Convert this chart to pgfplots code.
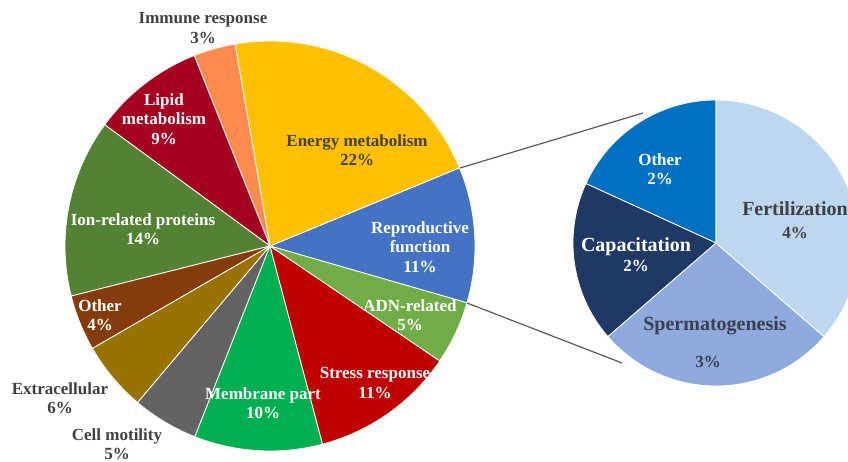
\documentclass[border=0pt]{standalone}
\usepackage{pgfplots}
\pgfplotsset{compat=1.18}
\usepackage{pgfplotstable}
\usepackage{fontspec}
\setmainfont{Liberation Serif}

% main pie colours
\definecolor{repro}{HTML}{4472C4}
\definecolor{energy}{HTML}{FFC000}
\definecolor{immune}{HTML}{FF8B4E}
\definecolor{lipid}{HTML}{A50021}
\definecolor{ion}{HTML}{548235}
\definecolor{othr}{HTML}{843C0C}
\definecolor{extra}{HTML}{997300}
\definecolor{motil}{HTML}{636363}
\definecolor{membr}{HTML}{00B050}
\definecolor{stress}{HTML}{C00000}
\definecolor{adn}{HTML}{70AD47}
% secondary pie colours
\definecolor{fert}{HTML}{BDD7EE}
\definecolor{sperm}{HTML}{8FAADC}
\definecolor{capac}{HTML}{203864}
\definecolor{other2}{HTML}{0070C0}
\definecolor{txtdark}{HTML}{404040}
\definecolor{txtsperm}{HTML}{3B3F4F}
\definecolor{connector}{HTML}{595959}

% shares in %, counter-clockwise from the split slice
\pgfplotstableread{
share col
10.7 repro
21.5 energy
3.3  immune
8.9  lipid
14.0 ion
4.4  othr
5.5  extra
5.2  motil
10.1 membr
11.4 stress
5.0  adn
}\mainpie

% breakdown of reproductive function, counter-clockwise from 12 o'clock
\pgfplotstableread{
share col
2 other2
2 capac
3 sperm
4 fert
}\subpie

\pgfplotstablegetrowsof{\mainpie}
\pgfmathtruncatemacro\nmain{\pgfplotsretval-1}
\pgfplotstablegetrowsof{\subpie}
\pgfmathtruncatemacro\nsub{\pgfplotsretval-1}

\tikzset{lbl/.style={font=\bfseries\fontsize{17}{19.5}\selectfont, align=center, inner sep=0pt}}

\begin{document}
\begin{tikzpicture}
\begin{axis}[
    width=848pt, height=462pt,
    scale only axis,
    xmin=0, xmax=848,
    ymin=0, ymax=462,
    hide axis,
]
\coordinate (SW) at (axis cs:0,0);
\coordinate (NE) at (axis cs:848,462);

% main pie
\def\a{-16.1}
\pgfplotsforeachungrouped \i in {0,...,\nmain}{%
  \pgfplotstablegetelem{\i}{share}\of\mainpie \let\v\pgfplotsretval
  \pgfplotstablegetelem{\i}{col}\of\mainpie \let\c\pgfplotsretval
  \pgfmathsetmacro\b{\a+3.6*\v}%
  \edef\temp{\noexpand\filldraw[fill=\c, draw=white, line width=0.8pt]
    (axis cs:270,216) -- ++(\a:205pt) arc[start angle=\a, end angle=\b, radius=205pt] -- cycle;}%
  \temp
  \let\a\b
}

% secondary pie (total 11)
\def\a{90}
\pgfplotsforeachungrouped \i in {0,...,\nsub}{%
  \pgfplotstablegetelem{\i}{share}\of\subpie \let\v\pgfplotsretval
  \pgfplotstablegetelem{\i}{col}\of\subpie \let\c\pgfplotsretval
  \pgfmathsetmacro\b{\a+360*\v/11}%
  \edef\temp{\noexpand\filldraw[fill=\c, draw=white, line width=0.8pt]
    (axis cs:716,219) -- ++(\a:143pt) arc[start angle=\a, end angle=\b, radius=143pt] -- cycle;}%
  \temp
  \let\a\b
}

% connector lines
\draw[connector, line width=1.2pt] (axis cs:460,294) -- (axis cs:643,349);
\draw[connector, line width=1.2pt] (axis cs:467,159) -- (axis cs:622,99);

% labels, main pie
\node[lbl, txtdark] at (axis cs:203,434) {Immune response\\3\%};
\node[lbl, white] at (axis cs:164,343) {Lipid\\metabolism\\9\%};
\node[lbl, txtdark] at (axis cs:357,312) {Energy metabolism\\22\%};
\node[lbl, white] at (axis cs:420,215) {Reproductive\\function\\11\%};
\node[lbl, white] at (axis cs:410,147) {ADN-related\\5\%};
\node[lbl, white] at (axis cs:375,79) {Stress response\\11\%};
\node[lbl, white] at (axis cs:263,59) {Membrane part\\10\%};
\node[lbl, txtdark] at (axis cs:117,18) {Cell motility\\5\%};
\node[lbl, txtdark] at (axis cs:60,64) {Extracellular\\6\%};
\node[lbl, white] at (axis cs:100,147) {Other\\4\%};
\node[lbl, white] at (axis cs:143,233) {Ion-related proteins\\14\%};

% labels, secondary pie
\node[lbl, white] at (axis cs:660,293) {Other\\2\%};
\node[lbl, txtdark, font=\bfseries\fontsize{20}{23}\selectfont] at (axis cs:795,242)
  {Fertilization\\{\fontsize{17}{19.5}\selectfont 4\%}};
\node[lbl, white, font=\bfseries\fontsize{20}{20}\selectfont] at (axis cs:636,207)
  {Capacitation\\{\fontsize{17}{19.5}\selectfont 2\%}};
\node[lbl, txtsperm, font=\bfseries\fontsize{20}{23}\selectfont] at (axis cs:715,136) {Spermatogenesis};
\node[lbl, txtsperm] at (axis cs:708,100) {3\%};
\end{axis}
\pgfresetboundingbox
\path (SW) rectangle (NE);
\end{tikzpicture}
\end{document}
